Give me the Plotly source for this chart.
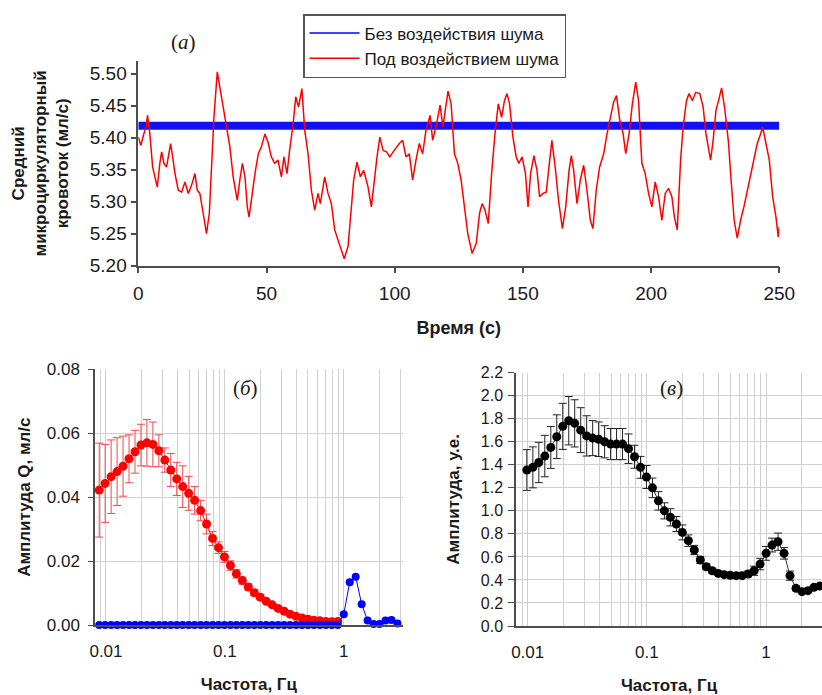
import plotly.graph_objects as go

# ---------------- Panel (а): time series ----------------
time_s = [0, 1.0, 2.0, 3.0, 3.6, 4.5, 5.6, 6.5, 7.4, 8.4, 9.1, 10.0, 11.0, 11.7, 12.6, 13.4, 14.3,
          15.6, 16.9, 18.2, 19.5, 20.8, 22.1, 23.0, 24.0, 25.3, 26.6, 27.7, 28.6, 29.5, 30.8, 31.8,
          33.1, 34.4, 35.7, 37.0, 38.6, 39.6, 40.6, 41.6, 42.5, 43.2, 44.2, 45.5, 46.8, 48.0, 49.4,
          50.6, 51.9, 53.2, 54.5, 55.8, 56.8, 58.0, 59.0, 60.4, 61.4, 62.5, 63.8, 64.9, 66.2, 67.5,
          68.8, 70.1, 71.0, 72.7, 74.0, 75.3, 76.6, 77.9, 79.2, 80.3, 81.8, 83.1, 84.0, 85.3, 86.6,
          87.9, 89.6, 90.9, 92.2, 93.1, 94.2, 95.5, 96.8, 98.1, 99.4, 101.8, 103.1, 104.4, 105.7,
          107.0, 108.3, 109.6, 110.9, 112.2, 113.8, 114.8, 116.1, 117.7, 118.8, 119.8, 120.8, 122.0,
          123.3, 124.6, 125.9, 127.2, 128.5, 130.2, 131.8, 133.1, 134.1, 135.2, 136.5, 137.8, 139.1,
          140.4, 141.7, 142.8, 143.8, 144.8, 146.1, 147.4, 148.4, 149.7, 151.0, 152.0, 153.0, 154.3,
          155.5, 156.5, 157.8, 159.1, 160.4, 161.3, 162.6, 163.9, 165.4, 166.7, 168.0, 168.9, 169.8,
          171.1, 172.4, 173.7, 175.0, 176.3, 177.3, 178.6, 179.9, 181.5, 182.8, 184.1, 185.4, 186.5,
          187.8, 189.1, 190.1, 191.4, 192.7, 194.0, 195.1, 196.4, 197.7, 199.0, 200.3, 201.6, 202.9,
          204.2, 205.5, 206.8, 208.1, 209.1, 210.2, 211.5, 212.5, 213.8, 214.8, 216.1, 217.4, 219.0,
          220.3, 221.4, 222.4, 223.2, 224.2, 225.3, 226.3, 227.5, 228.8, 230.1, 231.4, 232.4, 233.6,
          234.9, 236.2, 237.5, 238.8, 240.1, 241.4, 242.7, 243.5, 244.8, 246.1, 247.4, 248.7, 249.6,
          250.0]
flow_with_noise = [5.401, 5.388, 5.404, 5.417, 5.435, 5.406, 5.354, 5.339, 5.323, 5.360, 5.378, 5.360,
                   5.354, 5.370, 5.391, 5.370, 5.344, 5.318, 5.315, 5.331, 5.313, 5.326, 5.344, 5.318,
                   5.313, 5.282, 5.250, 5.282, 5.354, 5.432, 5.503, 5.479, 5.443, 5.412, 5.386, 5.339,
                   5.302, 5.334, 5.360, 5.339, 5.292, 5.276, 5.308, 5.344, 5.375, 5.386, 5.406, 5.393,
                   5.370, 5.360, 5.365, 5.339, 5.370, 5.344, 5.380, 5.422, 5.464, 5.448, 5.477, 5.412,
                   5.375, 5.318, 5.287, 5.313, 5.297, 5.339, 5.313, 5.297, 5.256, 5.240, 5.227, 5.211,
                   5.230, 5.292, 5.334, 5.362, 5.339, 5.349, 5.323, 5.292, 5.344, 5.370, 5.401, 5.380,
                   5.378, 5.370, 5.378, 5.391, 5.396, 5.370, 5.375, 5.334, 5.365, 5.391, 5.375, 5.412,
                   5.435, 5.396, 5.417, 5.451, 5.417, 5.443, 5.473, 5.453, 5.375, 5.360, 5.334, 5.292,
                   5.250, 5.219, 5.235, 5.282, 5.297, 5.287, 5.266, 5.344, 5.406, 5.453, 5.432, 5.458,
                   5.469, 5.453, 5.401, 5.370, 5.360, 5.370, 5.344, 5.292, 5.344, 5.372, 5.349, 5.308,
                   5.313, 5.315, 5.360, 5.396, 5.354, 5.302, 5.258, 5.292, 5.349, 5.372, 5.349, 5.297,
                   5.334, 5.357, 5.318, 5.271, 5.258, 5.318, 5.354, 5.375, 5.406, 5.432, 5.456, 5.466,
                   5.427, 5.406, 5.375, 5.406, 5.453, 5.487, 5.458, 5.360, 5.344, 5.313, 5.292, 5.331,
                   5.308, 5.271, 5.313, 5.321, 5.308, 5.276, 5.256, 5.365, 5.417, 5.458, 5.469, 5.458,
                   5.471, 5.469, 5.448, 5.406, 5.386, 5.365, 5.396, 5.443, 5.458, 5.478, 5.443, 5.396,
                   5.323, 5.271, 5.243, 5.271, 5.292, 5.318, 5.339, 5.365, 5.391, 5.406, 5.417, 5.391,
                   5.365, 5.308, 5.276, 5.245, 5.261]
time_no_noise = [0, 250]
flow_without_noise = [5.4186, 5.4186]

# ---------------- Panels (б), (в): spectra ----------------
freq_hz = [0.00877, 0.00984, 0.01105, 0.0124, 0.01392, 0.01563, 0.01754, 0.01969, 0.0221, 0.0248,
           0.02784, 0.03125, 0.03508, 0.03937, 0.04419, 0.04961, 0.05568, 0.0625, 0.07015, 0.07875,
           0.08839, 0.09921, 0.11137, 0.125, 0.14031, 0.15749, 0.17678, 0.19843, 0.22272, 0.25,
           0.28062, 0.31498, 0.35355, 0.39685, 0.44545, 0.5, 0.56123, 0.62996, 0.70711, 0.7937,
           0.8909, 1.0, 1.12246, 1.25992, 1.41421, 1.5874, 1.7818, 2.0, 2.24492, 2.51984, 2.82843]

amp_q_noise = [0.0422, 0.0443, 0.0464, 0.0480, 0.0497, 0.0520, 0.0542, 0.0563, 0.0570, 0.0565,
               0.0545, 0.0516, 0.0485, 0.0457, 0.0433, 0.0412, 0.0390, 0.0358, 0.0316, 0.0271,
               0.0242, 0.0213, 0.0186, 0.0160, 0.0139, 0.0119, 0.0101, 0.0087, 0.0074, 0.0063,
               0.0052, 0.0043, 0.0034, 0.0027, 0.0022, 0.0018, 0.0015, 0.0013, 0.0011, 0.0010,
               0.0011]
amp_q_noise_err = [0.0147, 0.0122, 0.0115, 0.0106, 0.0094, 0.0075, 0.0067, 0.0065, 0.0073, 0.0070,
                   0.0050, 0.0038, 0.0052, 0.0052, 0.0065, 0.0053, 0.0043, 0.0032, 0.0031, 0.0022,
                   0.0018, 0.0017, 0.0015, 0.0013, 0.0011, 0.0010, 0.0009, 0.0008, 0.0006, 0.0005,
                   0.0004, 0.0003, 0.0003, 0.0002, 0.0002, 0.0002, 0.0001, 0.0001, 0.0001, 0.0001,
                   0.0001]
amp_q_clean = [0.0] * 41 + [0.0034, 0.0134, 0.0151, 0.0065, 0.0014, 0.0003, 0.0003, 0.0014, 0.0016, 0.0005]

amp_rel = [1.355, 1.378, 1.420, 1.476, 1.551, 1.644, 1.734, 1.783, 1.760, 1.701, 1.651, 1.632, 1.622,
           1.600, 1.580, 1.580, 1.580, 1.540, 1.470, 1.378, 1.294, 1.200, 1.087, 1.000, 0.944, 0.886,
           0.813, 0.741, 0.660, 0.573, 0.515, 0.480, 0.457, 0.446, 0.440, 0.437, 0.437, 0.452, 0.480,
           0.538, 0.631, 0.703, 0.732, 0.631, 0.437, 0.327, 0.298, 0.307, 0.336, 0.347]
amp_rel_err = [0.177, 0.178, 0.175, 0.180, 0.182, 0.190, 0.200, 0.210, 0.205, 0.195, 0.175, 0.152, 0.150,
               0.140, 0.135, 0.135, 0.135, 0.128, 0.100, 0.095, 0.100, 0.085, 0.080, 0.070, 0.075, 0.065,
               0.065, 0.050, 0.040, 0.030, 0.025, 0.020, 0.015, 0.015, 0.015, 0.015, 0.015, 0.025, 0.040,
               0.050, 0.060, 0.060, 0.075, 0.050, 0.040, 0.020, 0.015, 0.015, 0.015, 0.015]

log_minor = [0.008, 0.009, 0.02, 0.03, 0.04, 0.05, 0.06, 0.07, 0.08, 0.09,
             0.2, 0.3, 0.4, 0.5, 0.6, 0.7, 0.8, 0.9, 2, 3]

FONT = "Liberation Sans, Arial, sans-serif"
SERIF = "Liberation Serif, Times New Roman, serif"
AXC = "#4d4d4d"
GRID = "#d0d0d0"
W, H = 822, 695

fig = go.Figure()

# --- top panel
fig.add_trace(go.Scatter(x=[None], y=[None], mode="lines", name="Без воздействия шума",
                         line=dict(color="#0000ff", width=1.5), xaxis="x", yaxis="y"))
fig.add_trace(go.Scatter(x=time_no_noise, y=flow_without_noise, mode="lines", showlegend=False,
                         line=dict(color="#1212f0", width=8), xaxis="x", yaxis="y"))
fig.add_trace(go.Scatter(x=time_s, y=flow_with_noise, mode="lines", name="Под воздействием шума",
                         line=dict(color="#ff0000", width=1.5), xaxis="x", yaxis="y"))

# --- panel б
fig.add_trace(go.Scatter(x=freq_hz[:41], y=amp_q_noise, mode="lines+markers", showlegend=False,
                         line=dict(color="#ff0000", width=1), marker=dict(color="#ff0000", size=9),
                         error_y=dict(type="data", array=amp_q_noise_err, color="#f04848",
                                      thickness=1, width=4),
                         xaxis="x2", yaxis="y2"))
fig.add_trace(go.Scatter(x=freq_hz, y=amp_q_clean, mode="lines+markers", showlegend=False,
                         line=dict(color="#0000ff", width=1), marker=dict(color="#0000ff", size=8),
                         cliponaxis=False, xaxis="x2", yaxis="y2"))

# --- panel в
fig.add_trace(go.Scatter(x=freq_hz[1:], y=amp_rel, mode="lines+markers", showlegend=False,
                         line=dict(color="#333333", width=1), marker=dict(color="#000000", size=9),
                         error_y=dict(type="data", array=amp_rel_err, color="#222222",
                                      thickness=1, width=4),
                         xaxis="x3", yaxis="y3"))

tickfont_top = dict(family=FONT, size=19, color="#1a1a1a")
tickfont_bot = dict(family=FONT, size=17, color="#1a1a1a")
titlefont = dict(family=FONT, size=17, color="#1a1a1a", weight="bold")

def px_x(x):
    return x / W

def px_y(y):
    return 1 - y / H

fig.update_layout(
    width=W, height=H, autosize=False,
    margin=dict(l=0, r=0, t=0, b=0),
    paper_bgcolor="white", plot_bgcolor="white",
    font=dict(family=FONT, size=17, color="#1a1a1a"),
    showlegend=True,
    legend=dict(x=px_x(303), y=px_y(14), xanchor="left", yanchor="top",
                bgcolor="white", bordercolor="#555555", borderwidth=1.5, itemwidth=50,
                font=dict(family=FONT, size=17, color="#1a1a1a"), tracegroupgap=0),
    xaxis=dict(domain=[px_x(138.3), px_x(779.3)], range=[0, 250], tickvals=[0, 50, 100, 150, 200, 250],
               showline=True, linecolor=AXC, linewidth=1.5, ticks="outside", ticklen=6, tickwidth=1.5,
               tickcolor=AXC, showgrid=False, zeroline=False, tickfont=tickfont_top,
               ticklabelstandoff=4, automargin=False,
               title=dict(text="Время (с)", font=dict(family=FONT, size=18, color="#1a1a1a", weight="bold"),
                          standoff=18),
               anchor="y"),
    yaxis=dict(domain=[px_y(265.7), px_y(61)], range=[5.2, 5.52],
               tickvals=[5.20, 5.25, 5.30, 5.35, 5.40, 5.45, 5.50], tickformat=".2f",
               showline=True, linecolor=AXC, linewidth=1.5, ticks="outside", ticklen=6, tickwidth=1.5,
               tickcolor=AXC, showgrid=False, zeroline=False, tickfont=tickfont_top, automargin=False,
               title=dict(text="Средний<br>микроциркуляторный<br>кровоток (мл/с)", font=titlefont,
                          standoff=17),
               anchor="x"),
    xaxis2=dict(domain=[px_x(95), px_x(402.7)], type="log", range=[-2.0924, 0.4958],
                tickvals=[0.01, 0.1, 1], ticktext=["0.01", "0.1", "1"],
                showgrid=True, gridcolor=GRID, gridwidth=1,
                minor=dict(tickvals=log_minor, showgrid=True, gridcolor=GRID, gridwidth=1, ticks=""),
                showline=True, linecolor=AXC, linewidth=1.5, ticks="", zeroline=False,
                tickfont=tickfont_bot, ticklabelstandoff=10, automargin=False,
                title=dict(text="Частота, Гц", font=titlefont, standoff=18),
                anchor="y2"),
    yaxis2=dict(domain=[px_y(625), px_y(369.3)], range=[0, 0.08], dtick=0.02, tickformat=".2f",
                showgrid=True, gridcolor=GRID, gridwidth=1, showline=True, linecolor=AXC, linewidth=1.5,
                ticks="outside", ticklen=5, tickcolor=AXC, zeroline=False, tickfont=tickfont_bot,
                ticklabelstandoff=5, automargin=False,
                title=dict(text="Амплитуда Q, мл/с", font=titlefont, standoff=12),
                anchor="x2"),
    xaxis3=dict(domain=[px_x(516), 1.0], type="log", range=[-2.098, 0.469],
                tickvals=[0.01, 0.1, 1], ticktext=["0.01", "0.1", "1"],
                showgrid=True, gridcolor=GRID, gridwidth=1,
                minor=dict(tickvals=log_minor, showgrid=True, gridcolor=GRID, gridwidth=1, ticks=""),
                showline=True, linecolor=AXC, linewidth=1.5, ticks="", zeroline=False,
                tickfont=tickfont_bot, ticklabelstandoff=10, automargin=False,
                title=dict(text="Частота, Гц", font=titlefont, standoff=18),
                anchor="y3"),
    yaxis3=dict(domain=[px_y(626), px_y(372.7)], range=[0, 2.2], dtick=0.2, tickformat=".1f",
                showgrid=True, gridcolor=GRID, gridwidth=1, showline=True, linecolor=AXC, linewidth=1.5,
                ticks="outside", ticklen=6, tickcolor=AXC, zeroline=False,
                tickfont=dict(family=FONT, size=16, color="#1a1a1a"),
                ticklabelstandoff=2, automargin=False,
                title=dict(text="Амплитуда, у.е.", font=titlefont, standoff=17),
                anchor="x3"),
    annotations=[
        dict(text="(<i>а</i>)", x=px_x(183), y=px_y(42), xref="paper", yref="paper",
             xanchor="center", yanchor="middle",
             showarrow=False, font=dict(family=SERIF, size=21, color="#1a1a1a")),
        dict(text="(<i>б</i>)", x=px_x(245), y=px_y(388), xref="paper", yref="paper",
             xanchor="center", yanchor="middle",
             showarrow=False, font=dict(family=SERIF, size=21, color="#1a1a1a")),
        dict(text="(<i>в</i>)", x=px_x(671), y=px_y(388), xref="paper", yref="paper",
             xanchor="center", yanchor="middle",
             showarrow=False, font=dict(family=SERIF, size=21, color="#1a1a1a")),
    ],
)

fig.write_html("out.html", config={"displayModeBar": False},
               post_script="document.body.style.margin='0';document.body.style.padding='0';")
